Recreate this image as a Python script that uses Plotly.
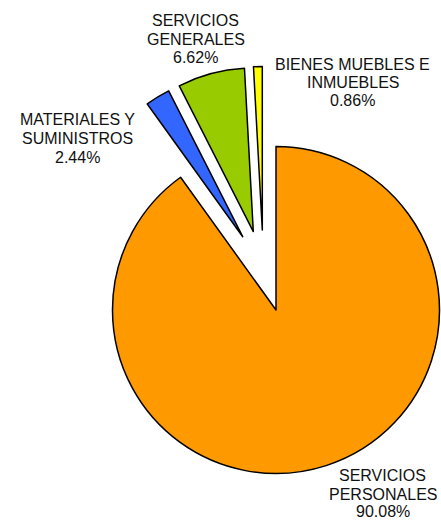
import plotly.graph_objects as go

W, H = 441, 520

categories = ["SERVICIOS PERSONALES", "MATERIALES Y SUMINISTROS", "SERVICIOS GENERALES", "BIENES MUEBLES E INMUEBLES"]
values = [90.08, 2.44, 6.62, 0.86]
colors = ["#FF9900", "#3366FF", "#99CC00", "#FFFF00"]

# label lines for each category (as shown in the chart)
label_lines = [
    ["SERVICIOS", "PERSONALES"],
    ["MATERIALES Y", "SUMINISTROS"],
    ["SERVICIOS", "GENERALES"],
    ["BIENES MUEBLES E", "INMUEBLES"],
]

# layout: apex (pixel) of each slice, common radius; label anchors
R = 163.5
apex = [(276, 310), (242.7, 236.7), (253.3, 231.6), (262.3, 230.0)]
label_pos = [
    (382.7, [475.3, 494.0, 511.0]),
    (77.0, [119.5, 138.5, 157.5]),
    (195.7, [20.8, 39.2, 57.5]),
    (352.8, [64.2, 82.5, 101.0]),
]

fig = go.Figure()
total = sum(values)
for i, (cx, cy) in enumerate(apex):
    cols = [colors[j] if j == i else "rgba(0,0,0,0)" for j in range(len(values))]
    lws = [1.5 if j == i else 0 for j in range(len(values))]
    fig.add_trace(go.Pie(
        labels=categories,
        values=values,
        sort=False,
        direction="clockwise",
        rotation=0,
        textinfo="none",
        hoverinfo="skip",
        showlegend=False,
        marker=dict(colors=cols, line=dict(color="black", width=lws)),
        domain=dict(x=[(cx - R) / W, (cx + R) / W],
                    y=[1 - (cy + R) / H, 1 - (cy - R) / H]),
    ))

annotations = []
for i, (lx, ys) in enumerate(label_pos):
    texts = label_lines[i] + [f"{values[i] / total * 100:.2f}%"]
    for t, y in zip(texts, ys):
        annotations.append(dict(
            x=lx / W, y=1 - y / H, xref="paper", yref="paper",
            text=t, showarrow=False, xanchor="center", yanchor="middle",
            borderpad=0,
            font=dict(family="Liberation Sans, Arial", size=16, color="#111111"),
        ))

fig.update_layout(
    width=W, height=H,
    margin=dict(l=0, r=0, t=0, b=0),
    paper_bgcolor="white", plot_bgcolor="white",
    annotations=annotations,
)

fig.write_html(
    "out.html",
    config={"displayModeBar": False},
    post_script="document.body.style.margin='0';document.body.style.overflow='hidden';",
)
